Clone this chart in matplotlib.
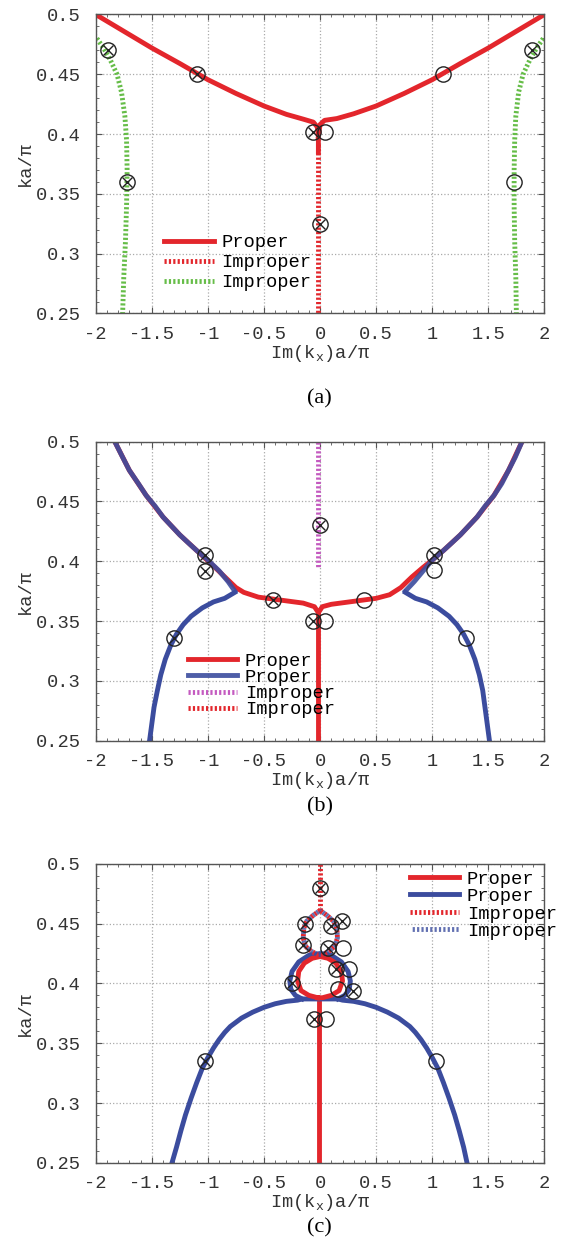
import matplotlib
matplotlib.use("Agg")
import matplotlib.pyplot as plt
from matplotlib.ticker import MultipleLocator, FormatStrFormatter

plt.rcParams['font.family'] = ['Liberation Mono', 'DejaVu Sans Mono']
plt.rcParams['mathtext.fontset'] = 'custom'
plt.rcParams['mathtext.rm'] = 'Liberation Mono'
plt.rcParams['axes.unicode_minus'] = False

ROJO = "#e3262c"
AZUL = "#3b4c9e"
VERDE = "#66bd48"
MAGENTA = "#c45ac0"

# ---------------- (a) ----------------
a_rojo_izq_x = [-2.0, -1.75, -1.5, -1.25, -1.0, -0.75, -0.5, -0.3, -0.15, -0.06, -0.025, -0.015, -0.015]
a_rojo_izq_y = [0.500, 0.486, 0.472, 0.459, 0.4455, 0.434, 0.4235, 0.4165, 0.4125, 0.410, 0.406, 0.398, 0.385]
a_rojo_der_x = [-0.015, 0.0, 0.04, 0.15, 0.3, 0.5, 0.75, 1.0, 1.25, 1.5, 1.75, 2.0]
a_rojo_der_y = [0.398, 0.408, 0.4115, 0.413, 0.417, 0.4235, 0.434, 0.4455, 0.459, 0.472, 0.486, 0.500]
a_rojo_imp_x = [-0.015, -0.015]
a_rojo_imp_y = [0.392, 0.25]
a_verde_izq_x = [-1.99, -1.93, -1.87, -1.81, -1.77, -1.74, -1.725, -1.72, -1.725, -1.735, -1.75, -1.76]
a_verde_izq_y = [0.480, 0.472, 0.462, 0.450, 0.435, 0.415, 0.395, 0.370, 0.340, 0.310, 0.280, 0.250]
a_verde_der_x = [1.99, 1.93, 1.87, 1.81, 1.77, 1.745, 1.735, 1.73, 1.73, 1.735, 1.745, 1.75]
a_verde_der_y = [0.480, 0.472, 0.462, 0.450, 0.435, 0.415, 0.395, 0.370, 0.340, 0.310, 0.280, 0.250]
a_cruz_x = [-1.89, -1.10, -0.06, -1.72, 0.0, 1.89]
a_cruz_y = [0.470, 0.450, 0.402, 0.360, 0.325, 0.470]
a_circ_x = [1.10, 0.045, 1.73]
a_circ_y = [0.450, 0.402, 0.360]

# ---------------- (b) ----------------
b_azul_sup_izq_x = [-1.83, -1.76, -1.70, -1.62, -1.55, -1.47, -1.40, -1.32, -1.25, -1.17, -1.10, -1.00, -0.90, -0.82, -0.76]
b_azul_sup_izq_y = [0.500, 0.487, 0.476, 0.465, 0.455, 0.446, 0.437, 0.429, 0.422, 0.415, 0.409, 0.401, 0.392, 0.383, 0.375]
b_azul_inf_izq_x = [-0.76, -0.85, -0.95, -1.05, -1.15, -1.22, -1.28, -1.33, -1.38, -1.42, -1.45, -1.48, -1.50, -1.52]
b_azul_inf_izq_y = [0.374, 0.369, 0.366, 0.361, 0.354, 0.347, 0.339, 0.330, 0.318, 0.305, 0.292, 0.278, 0.264, 0.250]
b_azul_sup_der_x = [0.76, 0.84, 0.92, 1.00, 1.10, 1.17, 1.25, 1.32, 1.40, 1.47, 1.55, 1.62, 1.68, 1.74, 1.80]
b_azul_sup_der_y = [0.375, 0.383, 0.392, 0.401, 0.409, 0.415, 0.422, 0.429, 0.437, 0.446, 0.455, 0.465, 0.476, 0.487, 0.500]
b_azul_inf_der_x = [0.76, 0.85, 0.95, 1.05, 1.15, 1.22, 1.28, 1.33, 1.38, 1.42, 1.45, 1.47, 1.49, 1.51]
b_azul_inf_der_y = [0.374, 0.369, 0.366, 0.361, 0.354, 0.347, 0.339, 0.330, 0.318, 0.305, 0.292, 0.278, 0.264, 0.250]
b_rojo_x = [-1.83, -1.70, -1.55, -1.40, -1.25, -1.10, -0.95, -0.85, -0.75, -0.68, -0.55, -0.35, -0.15, -0.05, -0.015,
            0.02, 0.1, 0.3, 0.5, 0.62, 0.72, 0.82, 0.92, 1.00, 1.10, 1.25, 1.40, 1.55, 1.68, 1.80]
b_rojo_y = [0.500, 0.476, 0.455, 0.437, 0.422, 0.409, 0.396, 0.387, 0.378, 0.374, 0.370, 0.3675, 0.365, 0.362, 0.357,
            0.362, 0.364, 0.3665, 0.369, 0.372, 0.378, 0.387, 0.395, 0.401, 0.409, 0.422, 0.437, 0.455, 0.476, 0.500]
b_rojo_vert_x = [-0.015, -0.015]
b_rojo_vert_y = [0.357, 0.25]
b_mag_x = [-0.02, -0.02]
b_mag_y = [0.500, 0.395]
b_cruz_x = [-1.03, -1.03, -0.42, -0.06, -1.30, 0.0, 1.02]
b_cruz_y = [0.4055, 0.392, 0.368, 0.350, 0.3355, 0.430, 0.405]
b_circ_x = [1.02, 0.39, 0.045, 1.30]
b_circ_y = [0.393, 0.368, 0.350, 0.3355]

# ---------------- (c) ----------------
c_azul_arco_x = [-1.32, -1.28, -1.24, -1.20, -1.15, -1.10, -1.05, -1.0, -0.95, -0.9, -0.85, -0.8, -0.7, -0.6, -0.5,
                 -0.4, -0.3, -0.2, -0.16,
                 0.16, 0.2, 0.3, 0.4, 0.5, 0.6, 0.7, 0.8, 0.85, 0.9, 0.95, 1.0, 1.05, 1.10, 1.15, 1.20, 1.24, 1.28, 1.31]
c_azul_arco_y = [0.250, 0.263, 0.277, 0.290, 0.304, 0.317, 0.329, 0.338, 0.346, 0.353, 0.359, 0.364, 0.371, 0.376, 0.380,
                 0.383, 0.385, 0.386, 0.387,
                 0.387, 0.386, 0.385, 0.383, 0.380, 0.376, 0.371, 0.364, 0.359, 0.353, 0.346, 0.338, 0.329, 0.317, 0.304,
                 0.290, 0.277, 0.263, 0.250]
c_azul_lazo_x = [-0.16, -0.22, -0.26, -0.27, -0.25, -0.19, -0.10, 0.0, 0.10, 0.19, 0.25, 0.27, 0.26, 0.22, 0.16]
c_azul_lazo_y = [0.387, 0.390, 0.395, 0.402, 0.410, 0.418, 0.4235, 0.425, 0.4235, 0.418, 0.410, 0.402, 0.395, 0.390, 0.387]
c_rojo_lazo_x = [-0.02, -0.1, -0.17, -0.2, -0.19, -0.14, -0.07, 0.0, 0.07, 0.14, 0.19, 0.2, 0.17, 0.1, 0.02, -0.02]
c_rojo_lazo_y = [0.388, 0.390, 0.394, 0.402, 0.410, 0.417, 0.421, 0.4225, 0.421, 0.417, 0.410, 0.402, 0.394, 0.390, 0.388, 0.388]
c_rojo_vert_x = [-0.01, -0.01]
c_rojo_vert_y = [0.250, 0.388]
c_imp_x = [0.0, -0.06, -0.12, -0.145, -0.15, -0.13, -0.08, -0.02, 0.02, 0.08, 0.13, 0.155, 0.15, 0.12, 0.06, 0.0]
c_imp_y = [0.461, 0.457, 0.452, 0.446, 0.438, 0.431, 0.427, 0.424, 0.424, 0.427, 0.431, 0.438, 0.446, 0.452, 0.457, 0.461]
c_imp_vert_x = [0.0, 0.0]
c_imp_vert_y = [0.461, 0.500]
c_cruz_x = [0.0, -0.135, -0.155, 0.195, 0.095, 0.07, 0.14, -0.25, 0.29, -0.05, -1.03]
c_cruz_y = [0.480, 0.450, 0.432, 0.452, 0.448, 0.430, 0.412, 0.400, 0.394, 0.370, 0.335]
c_circ_x = [0.20, 0.26, 0.16, 0.05, 1.035]
c_circ_y = [0.430, 0.412, 0.395, 0.370, 0.335]

LW = 3.5
PUNTEADO = (0, (0.45, 0.45))
PUNTEADO_ALT = (0.45, (0.45, 0.45))
FS = 13.5


def preparar(ax):
    ax.set_xlim(-2, 2)
    ax.set_ylim(0.25, 0.5)
    ax.xaxis.set_major_locator(MultipleLocator(0.5))
    ax.xaxis.set_minor_locator(MultipleLocator(0.1))
    ax.yaxis.set_major_locator(MultipleLocator(0.05))
    ax.yaxis.set_minor_locator(MultipleLocator(0.01))
    ax.xaxis.set_major_formatter(FormatStrFormatter('%g'))
    ax.yaxis.set_major_formatter(FormatStrFormatter('%g'))
    ax.tick_params(which='both', direction='in', top=True, right=True, color='#555555')
    ax.tick_params(which='major', length=4, labelsize=FS, labelcolor='#333333')
    ax.tick_params(axis='x', which='major', pad=9)
    ax.tick_params(axis='y', which='major', pad=11)
    ax.tick_params(which='minor', length=2)
    ax.grid(True, which='major', color='#aaaaaa', linestyle=':', linewidth=0.9)
    for s in ax.spines.values():
        s.set_color('#555555')
        s.set_linewidth(1.0)
    ax.set_xlabel(r'Im(k$_\mathregular{x}$)a/π', fontsize=FS, color='#333333', labelpad=0)
    ax.set_ylabel('ka/π', fontsize=FS, color='#333333', labelpad=1)


def marcas(ax, cx, cy, ox, oy):
    ax.plot(cx, cy, 'o', ms=11, mfc='none', mec='#222222', mew=1.0, zorder=5)
    ax.plot(cx, cy, 'x', ms=7, mec='#222222', mew=1.0, zorder=5)
    ax.plot(ox, oy, 'o', ms=11, mfc='none', mec='#222222', mew=1.0, zorder=5)


def leyenda(ax, x, y, espacio):
    ley = ax.legend(loc='upper left', bbox_to_anchor=(x, y), bbox_transform=ax.transData,
                    frameon=False, fontsize=FS, handlelength=2.65, labelspacing=espacio,
                    handletextpad=0.4, borderpad=0, borderaxespad=0)
    ley.set_clip_on(False)
    return ley


fig = plt.figure(figsize=(5.63, 12.49), dpi=100)
ax1 = fig.add_axes([0.170, 0.749, 0.797, 0.2394])
ax2 = fig.add_axes([0.170, 0.407, 0.797, 0.2394])
ax3 = fig.add_axes([0.170, 0.069, 0.797, 0.2394])

# (a)
preparar(ax1)
ax1.plot(a_rojo_izq_x, a_rojo_izq_y, color=ROJO, lw=LW, label='Proper')
ax1.plot(a_rojo_der_x, a_rojo_der_y, color=ROJO, lw=LW)
ax1.plot(a_rojo_imp_x, a_rojo_imp_y, color=ROJO, lw=LW, ls=PUNTEADO, label='Improper')
ax1.plot(a_verde_izq_x, a_verde_izq_y, color=VERDE, lw=LW, ls=PUNTEADO, label='Improper')
ax1.plot(a_verde_der_x, a_verde_der_y, color=VERDE, lw=LW, ls=PUNTEADO)
marcas(ax1, a_cruz_x, a_cruz_y, a_circ_x, a_circ_y)
leyenda(ax1, -1.39, 0.3165, 0.16)

# (b)
preparar(ax2)
ax2.plot(b_rojo_x, b_rojo_y, color=ROJO, lw=LW, label='Proper')
ax2.plot(b_rojo_vert_x, b_rojo_vert_y, color=ROJO, lw=LW)
ax2.plot(b_azul_sup_izq_x, b_azul_sup_izq_y, color=AZUL, lw=LW, alpha=0.9, label='Proper')
ax2.plot(b_azul_inf_izq_x, b_azul_inf_izq_y, color=AZUL, lw=LW)
ax2.plot(b_azul_sup_der_x, b_azul_sup_der_y, color=AZUL, lw=LW, alpha=0.9)
ax2.plot(b_azul_inf_der_x, b_azul_inf_der_y, color=AZUL, lw=LW)
ax2.plot(b_mag_x, b_mag_y, color=MAGENTA, lw=LW, ls=PUNTEADO, label='Improper')
ax2.plot([], [], color=ROJO, lw=LW, ls=PUNTEADO, label='Improper')
marcas(ax2, b_cruz_x, b_cruz_y, b_circ_x, b_circ_y)
leyenda(ax2, -1.18, 0.3235, -0.05)

# (c)
preparar(ax3)
ax3.plot(c_rojo_vert_x, c_rojo_vert_y, color=ROJO, lw=LW, label='Proper')
ax3.plot(c_azul_arco_x, c_azul_arco_y, color=AZUL, lw=LW, label='Proper')
ax3.plot(c_azul_lazo_x, c_azul_lazo_y, color=AZUL, lw=LW)
ax3.plot(c_rojo_lazo_x, c_rojo_lazo_y, color=ROJO, lw=LW)
ax3.plot(c_imp_x, c_imp_y, color=ROJO, lw=LW, ls=PUNTEADO, label='Improper')
ax3.plot(c_imp_vert_x, c_imp_vert_y, color=ROJO, lw=LW, ls=PUNTEADO)
ax3.plot(c_imp_x, c_imp_y, color=AZUL, lw=LW, ls=PUNTEADO_ALT, alpha=0.8, label='Improper')
marcas(ax3, c_cruz_x, c_cruz_y, c_circ_x, c_circ_y)
leyenda(ax3, 0.80, 0.4945, 0.02)

for y, t in [(0.681, '(a)'), (0.354, '(b)'), (0.017, '(c)')]:
    fig.text(0.5675, y, t, ha='center', va='center', fontsize=16, family='Liberation Serif')

fig.savefig('out.png', dpi=100)
